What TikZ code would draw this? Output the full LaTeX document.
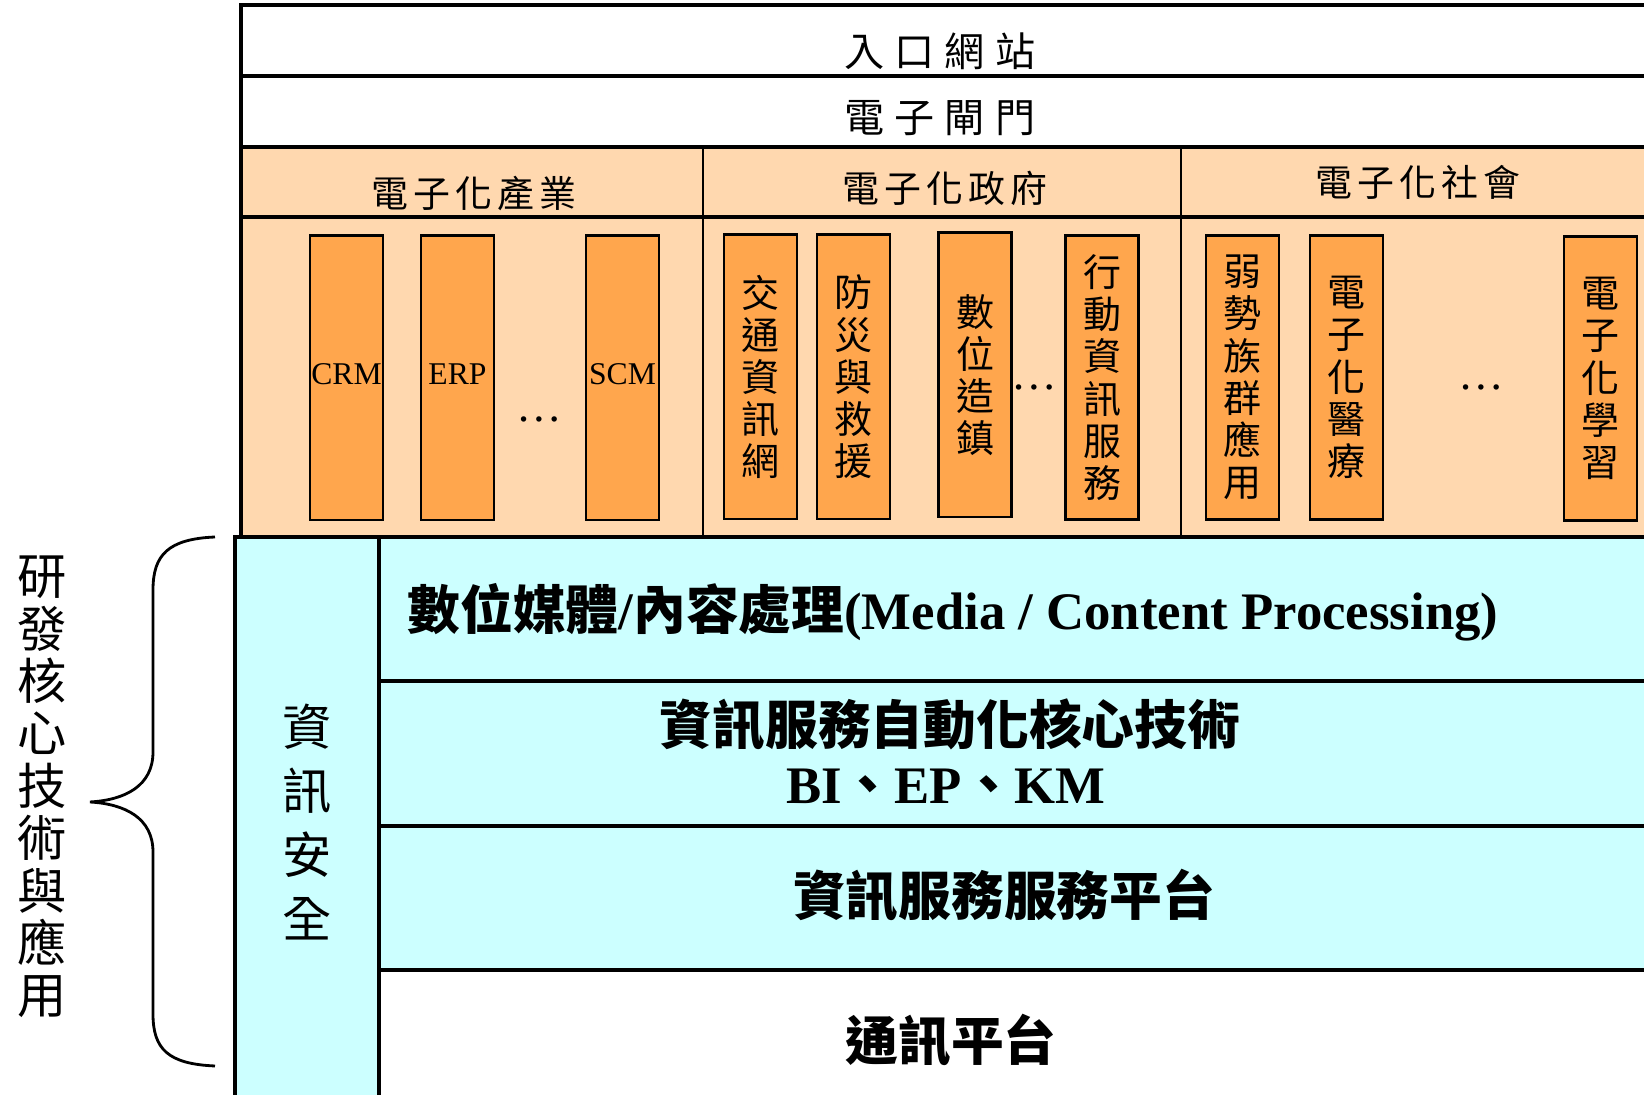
\documentclass[tikz,border=0pt]{standalone}
\usepackage{fontspec}
\setmainfont{Liberation Serif}
\newfontfamily\cjk{Noto Sans CJK TC}
\definecolor{peach}{HTML}{FFD8AF}
\definecolor{orangebox}{HTML}{FFA64D}
\definecolor{cyanbg}{HTML}{CCFFFF}
\tikzset{
  ln/.style={line width=0.9pt},
  thinln/.style={line width=0.7pt},
  obox/.style={draw, line width=0.8pt, fill=orangebox, minimum width=0.73cm, minimum height=2.84cm, inner sep=0pt},
  vtxt/.style={align=center, font=\cjk\fontsize{10.8}{12}\selectfont},
  latbox/.style={font=\fontsize{9}{10}\selectfont, inner sep=0pt},
  toptxt/.style={inner sep=0pt, font=\cjk\fontsize{11.4}{12}\selectfont\addfontfeature{LetterSpace=25}},
  headtxt/.style={inner sep=0pt, font=\cjk\fontsize{10.5}{12}\selectfont\addfontfeature{LetterSpace=14}},
  bigtxt/.style={inner sep=0pt, font=\bfseries\fontsize{15}{17}\selectfont},
  dots/.style={anchor=base, inner sep=0pt, font=\fontsize{13}{14}\selectfont},
}
\begin{document}
\begin{tikzpicture}[x=0.01cm,y=-0.01cm]
\useasboundingbox (0,0) rectangle (1644,1095);
\clip (0,0) rectangle (1644,1095);
\fill[white] (0,0) rectangle (1644,1095);
% backgrounds
\fill[peach] (241,147) rectangle (1660,537);
\fill[cyanbg] (235,537) rectangle (1660,970);
\fill[cyanbg] (235,970) rectangle (379,1100);
% top table lines
\draw[ln] (1660,5) -- (241,5) -- (241,537);
\draw[ln] (241,76) -- (1660,76);
\draw[ln] (241,147) -- (1660,147);
\draw[ln] (241,217) -- (1660,217);
\draw[thinln] (703,147) -- (703,537);
\draw[thinln] (1181,147) -- (1181,537);
% lower table lines
\draw[ln] (235,1100) -- (235,537) -- (1660,537);
\draw[ln] (379,537) -- (379,1100);
\draw[ln] (379,681) -- (1660,681);
\draw[ln] (379,826) -- (1660,826);
\draw[ln] (379,970) -- (1660,970);

% top rows
\node[toptxt] (portal) at (940,51) {入口網站};
\node[toptxt] (gate) at (940,118) {電子閘門};
\node[headtxt] (ind) at (474,193) {電子化產業};
\node[headtxt] (gov) at (945,188) {電子化政府};
\node[headtxt] (soc) at (1418,182) {電子化社會};

% orange boxes
\node[obox] (crm) at (346.5,378) {};
\node[latbox] at ([yshift=0.04cm]crm.center) {CRM};
\node[obox] (erp) at (457.5,378) {};
\node[latbox] at ([yshift=0.04cm]erp.center) {ERP};
\node[dots] (d1) at (539,422) {…};
\node[obox] (scm) at (622.5,378) {};
\node[latbox] at ([yshift=0.04cm]scm.center) {SCM};

\node[obox] (traffic) at (760.5,377) {};
\node[vtxt] at (traffic.center) {交\\通\\資\\訊\\網};
\node[obox] (disaster) at (853.5,377) {};
\node[vtxt] at (disaster.center) {防\\災\\與\\救\\援};
\node[obox] (town) at (975,375) {};
\node[vtxt] at (town.center) {數\\位\\造\\鎮};
\node[dots] (d2) at (1034,390) {…};
\node[obox] (mobile) at (1102,377.5) {};
\node[vtxt] at (mobile.center) {行\\動\\資\\訊\\服\\務};

\node[obox] (weak) at (1242.5,377.5) {};
\node[vtxt] at (weak.center) {弱\\勢\\族\\群\\應\\用};
\node[obox] (med) at (1346.5,377.5) {};
\node[vtxt] at (med.center) {電\\子\\化\\醫\\療};
\node[dots] (d3) at (1481,390) {…};
\node[obox] (learn) at (1600.5,378.5) {};
\node[vtxt] at (learn.center) {電\\子\\化\\學\\習};

% lower rows
\node[bigtxt, anchor=west] (media) at (407,612) {{\cjk 數位媒體}/{\cjk 內容處理}(Media / Content Processing)};
\node[bigtxt] (auto) at (950,725) {\cjk 資訊服務自動化核心技術};
\node[bigtxt] (biepkm) at (946,786) {BI{\cjk 、}EP{\cjk 、}KM};
\node[bigtxt] (platform) at (1004,895) {\cjk 資訊服務服務平台};
\node[bigtxt] (comm) at (951,1040) {\cjk 通訊平台};

% security column
\node[align=center, inner sep=0pt, font=\cjk\fontsize{14}{18.2}\selectfont] (sec) at (307,822) {資\\訊\\安\\全};

% brace and left label
\draw[line width=0.8pt] (215,537) .. controls (168,539) and (153,555) .. (153,590) -- (153,752) .. controls (153,786) and (125,800) .. (90,802) .. controls (125,804) and (153,818) .. (153,852) -- (153,1014) .. controls (153,1049) and (168,1064) .. (215,1066);
\node[align=center, inner sep=0pt, font=\cjk\fontsize{14}{14.9}\selectfont] (rd) at (42,787) {研\\發\\核\\心\\技\\術\\與\\應\\用};
\end{tikzpicture}
\end{document}
